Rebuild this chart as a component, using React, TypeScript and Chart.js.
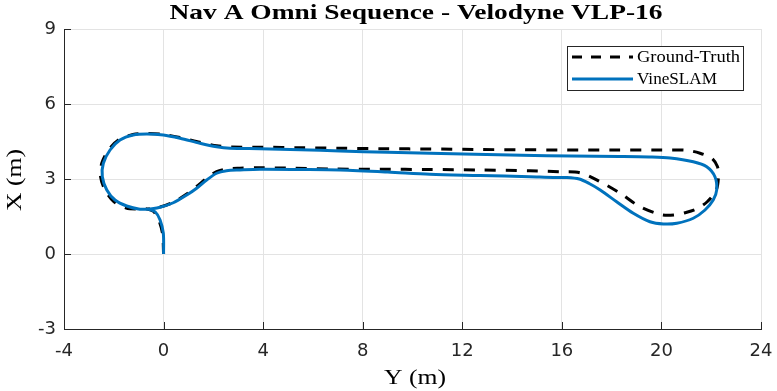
import React, { useEffect, useRef } from "react";
import { Chart, registerables } from "chart.js";
Chart.register(...registerables);

const TITLE = "Nav A Omni Sequence - Velodyne VLP-16";
const X_LABEL = "Y (m)";
const Y_LABEL = "X (m)";
const X_TICKS = [-4, 0, 4, 8, 12, 16, 20, 24];
const Y_TICKS = [-3, 0, 3, 6, 9];
const LEGEND_NAMES = ["Ground-Truth", "VineSLAM"];

// Ground-Truth trajectory (horizontal = Y, vertical = X)
const gtY = [0, -0.04, -0.19, -0.4, -0.66, -1.0, -1.5, -2.0, -2.34, -2.53, -2.48, -2.2, -1.78, -1.23, -0.68, 0, 0.66, 1.46, 2.13, 2.67, 4.0, 5.5, 7.0, 9.0, 10.7, 12.5, 14.3, 16.2, 18.0, 20.0, 21.0, 21.55, 22.02, 22.25, 22.29, 22.2, 21.85, 21.45, 21.02, 20.5, 20.0, 19.14, 18.34, 17.54, 16.73, 15.93, 14.72, 12.7, 10.7, 8.7, 6.69, 5.2, 3.87, 3.07, 2.53, 2.13, 1.73, 1.33, 0.93, 0.39, -0.14, -0.66];
const gtX = [0, 0.8, 1.35, 1.7, 1.8, 1.8, 1.84, 2.1, 2.54, 3.09, 3.64, 4.18, 4.58, 4.78, 4.82, 4.78, 4.66, 4.47, 4.33, 4.28, 4.27, 4.25, 4.23, 4.21, 4.2, 4.18, 4.17, 4.16, 4.16, 4.16, 4.15, 4.03, 3.83, 3.5, 3.09, 2.55, 2.1, 1.82, 1.67, 1.56, 1.57, 1.89, 2.43, 2.89, 3.25, 3.29, 3.33, 3.36, 3.38, 3.39, 3.4, 3.43, 3.45, 3.43, 3.4, 3.3, 3.03, 2.7, 2.4, 2.07, 1.88, 1.8];

// VineSLAM trajectory
const slamY = [0, -0.01, -0.14, -0.34, -0.61, -0.95, -1.48, -1.95, -2.28, -2.46, -2.42, -2.15, -1.75, -1.22, -0.68, -0.01, 0.66, 1.46, 2.13, 2.67, 3.87, 5.5, 7.09, 9.0, 10.7, 12.5, 14.4, 16.4, 18.3, 19.5, 20.35, 21.28, 21.82, 22.15, 22.22, 22.08, 21.75, 21.28, 20.62, 20.08, 19.54, 18.87, 18.2, 17.54, 17.1, 16.7, 16.2, 15.66, 14.72, 12.7, 10.7, 9.0, 7.09, 5.5, 3.87, 3.07, 2.53, 2.13, 1.73, 1.33, 0.93, 0.39, -0.14, -0.61];
const slamX = [0, 0.83, 1.36, 1.69, 1.79, 1.79, 1.92, 2.16, 2.56, 3.09, 3.63, 4.16, 4.56, 4.76, 4.8, 4.76, 4.63, 4.43, 4.29, 4.23, 4.21, 4.17, 4.12, 4.07, 4.03, 3.99, 3.95, 3.92, 3.9, 3.88, 3.84, 3.69, 3.49, 3.09, 2.56, 2.16, 1.76, 1.43, 1.23, 1.2, 1.29, 1.63, 2.09, 2.56, 2.82, 3.0, 3.06, 3.06, 3.09, 3.14, 3.19, 3.28, 3.36, 3.38, 3.39, 3.36, 3.33, 3.23, 2.96, 2.63, 2.36, 2.05, 1.87, 1.79];

const BLUE = "#0072BD";
const AXIS = "#262626";

function fitText(ctx: CanvasRenderingContext2D, text: string, x: number, y: number, font: string, width: number, align: CanvasTextAlign) {
  ctx.save();
  ctx.font = font;
  const w = ctx.measureText(text).width;
  const s = width / w;
  ctx.translate(x, y);
  ctx.scale(s, 1);
  ctx.textAlign = align;
  ctx.textBaseline = "alphabetic";
  ctx.fillText(text, 0, 0);
  ctx.restore();
}

const deco = {
  id: "deco",
  afterDraw(chart: any) {
    const { ctx, chartArea: a, scales } = chart;
    ctx.save();
    ctx.strokeStyle = AXIS;
    ctx.lineWidth = 1;
    for (const v of X_TICKS) {
      const px = Math.round(scales.x.getPixelForValue(v)) + 0.5;
      ctx.beginPath();
      ctx.moveTo(px, a.bottom);
      ctx.lineTo(px, a.bottom - 7);
      ctx.stroke();
    }
    for (const v of Y_TICKS) {
      const py = Math.round(scales.y.getPixelForValue(v)) + 0.5;
      ctx.beginPath();
      ctx.moveTo(a.left, py);
      ctx.lineTo(a.left + 7, py);
      ctx.stroke();
    }
    ctx.restore();

    ctx.fillStyle = "#000";
    fitText(ctx, TITLE, 416, 19, "bold 21px 'Liberation Serif'", 493, "center");
    fitText(ctx, X_LABEL, 415, 384, "20px 'Liberation Serif'", 62, "center");
    ctx.save();
    ctx.translate(21, 180);
    ctx.rotate(-Math.PI / 2);
    fitText(ctx, Y_LABEL, 0, 0, "20px 'Liberation Serif'", 62, "center");
    ctx.restore();

    const lx = 567.5, ly = 46.5, lw = 176, lh = 44;
    ctx.save();
    ctx.fillStyle = "#fff";
    ctx.fillRect(lx, ly, lw, lh);
    ctx.strokeStyle = AXIS;
    ctx.lineWidth = 1;
    ctx.strokeRect(lx, ly, lw, lh);
    ctx.lineWidth = 3;
    ctx.strokeStyle = "#000";
    ctx.setLineDash([10, 9]);
    ctx.beginPath();
    ctx.moveTo(572, 57);
    ctx.lineTo(633, 57);
    ctx.stroke();
    ctx.setLineDash([]);
    ctx.strokeStyle = BLUE;
    ctx.beginPath();
    ctx.moveTo(572, 79);
    ctx.lineTo(633, 79);
    ctx.stroke();
    ctx.fillStyle = "#000";
    fitText(ctx, LEGEND_NAMES[0], 637, 62, "16px 'Liberation Serif'", 103, "left");
    fitText(ctx, LEGEND_NAMES[1], 637, 84, "16px 'Liberation Serif'", 80, "left");
    ctx.restore();
  },
};

export default function App() {
  const ref = useRef<HTMLCanvasElement>(null);
  useEffect(() => {
    if (!ref.current) return;
    const gt = gtY.map((y, i) => ({ x: y, y: gtX[i] }));
    const sl = slamY.map((y, i) => ({ x: y, y: slamX[i] }));
    const chart = new Chart(ref.current, {
      type: "scatter",
      data: {
        datasets: [
          {
            label: LEGEND_NAMES[1],
            data: sl,
            showLine: true,
            borderColor: BLUE,
            borderWidth: 3,
            pointRadius: 0,
            tension: 0.3,
            fill: false,
          },
          {
            label: LEGEND_NAMES[0],
            data: gt,
            showLine: true,
            borderColor: "#000",
            borderWidth: 3,
            borderDash: [11, 10],
            pointRadius: 0,
            tension: 0.3,
            fill: false,
          },
        ],
      },
      options: {
        animation: false,
        responsive: false,
        devicePixelRatio: 1,
        layout: { padding: { top: 29, right: 16, left: 0, bottom: 0 } },
        plugins: { legend: { display: false }, tooltip: { enabled: false }, title: { display: false } },
        scales: {
          x: {
            type: "linear",
            min: -4,
            max: 24,
            afterBuildTicks: (s: any) => { s.ticks = X_TICKS.map((v) => ({ value: v })); },
            afterFit: (s: any) => { s.height = 62; s.paddingLeft = 0; s.paddingRight = 0; },
            grid: { color: "#e3e3e3", drawTicks: false },
            border: { color: AXIS, width: 1 },
            ticks: { color: AXIS, font: { family: "'DejaVu Sans'", size: 18 }, padding: 12, maxRotation: 0 },
          },
          y: {
            type: "linear",
            min: -3,
            max: 9,
            afterBuildTicks: (s: any) => { s.ticks = Y_TICKS.map((v) => ({ value: v })); },
            afterFit: (s: any) => { s.width = 64; s.paddingTop = 0; s.paddingBottom = 0; },
            grid: { color: "#e3e3e3", drawTicks: false },
            border: { color: AXIS, width: 1 },
            ticks: { color: AXIS, font: { family: "'DejaVu Sans'", size: 18 }, padding: 8 },
          },
        },
      },
      plugins: [deco],
    });
    return () => chart.destroy();
  }, []);
  return (
    <div style={{ position: "fixed", left: 0, top: 0, width: 777, height: 391, background: "#fff" }}>
      <canvas ref={ref} width={777} height={391} style={{ width: 777, height: 391, display: "block" }} />
    </div>
  );
}
